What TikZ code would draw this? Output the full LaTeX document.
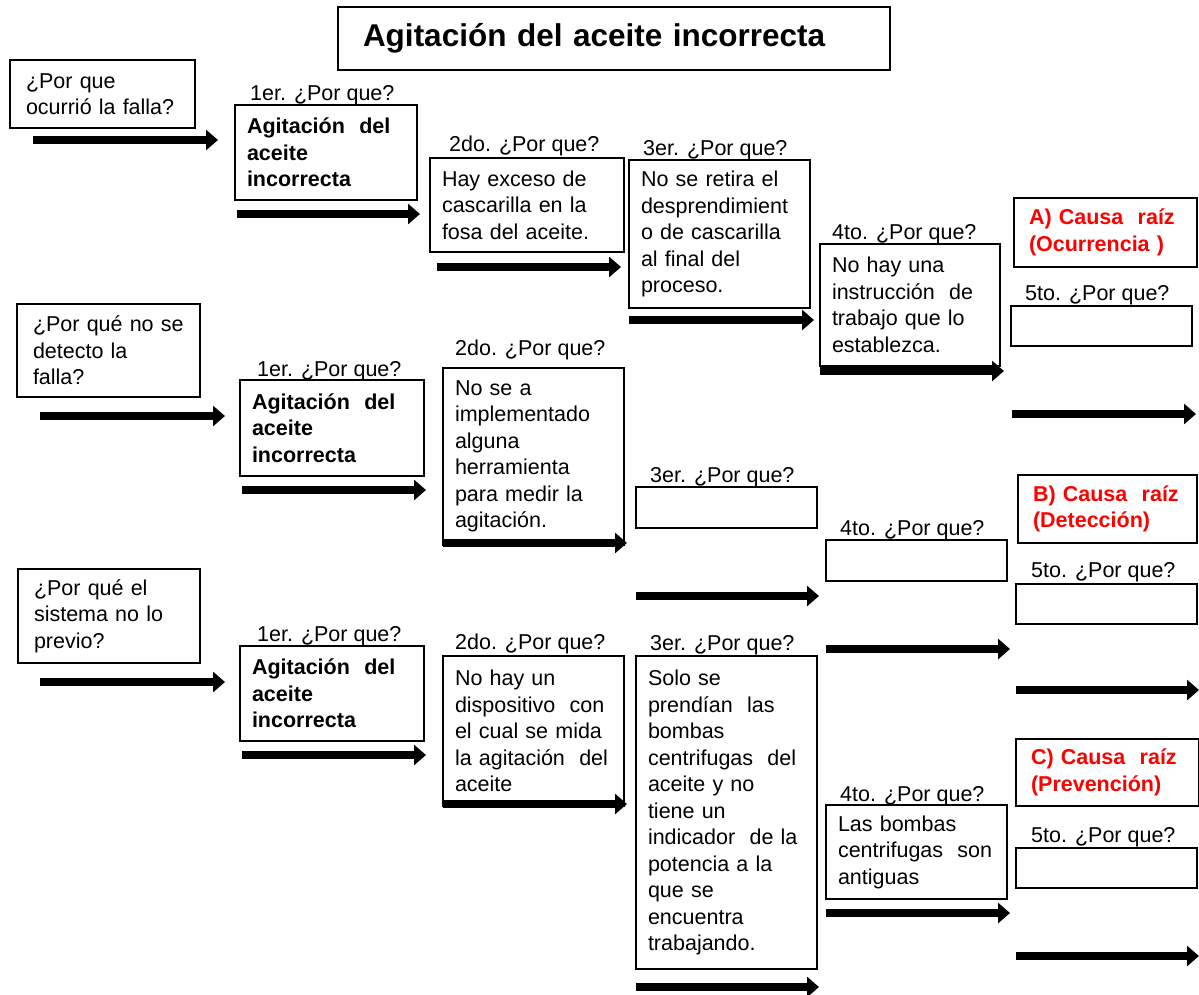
\documentclass[tikz,border=0pt]{standalone}
\usepackage{fontspec}
\setmainfont{Liberation Sans}
\usetikzlibrary{arrows.meta, positioning}
\definecolor{rootred}{RGB}{255,0,0}
\tikzset{
    why/.style={font=\fontsize{21.5}{26.5}\selectfont},
    why bold/.style={font=\fontsize{21.5}{26.5}\selectfont\bfseries},
    why box/.style={draw, line width=2.8pt, outer sep=0pt, anchor=north west,
        inner xsep=12pt, inner ysep=0pt, align=left, text width=157pt},
    question box/.style={why box, inner xsep=16pt},
    why label/.style={anchor=base west, inner sep=0pt},
    why arrow/.style={line width=8pt, -{Triangle[length=12pt, width=20pt]}},
    root box/.style={why box, why bold, text=rootred, inner xsep=15pt, text width=153pt},
}

\begin{document}
\begin{tikzpicture}[x=1pt, y=-1pt, why]
    \useasboundingbox (0,0) rectangle (1199,994);

    \node[draw, line width=1.5pt, outer sep=0pt, anchor=north west, inner xsep=25pt,
        text width=502pt, minimum height=63pt, align=left,
        font=\fontsize{31.5}{34}\selectfont\bfseries] (title) at (338,7)
        {Agitación del aceite incorrecta};

    % A) ocurrencia
    \node[question box, text width=153pt, minimum height=68pt] (q1) at (10,60)
        {¿Por que\\ocurrió la falla?};
    \node[why box, why bold, text width=158pt, minimum height=95pt] (b11) at (235,105)
        {Agitación \ del\\aceite\\incorrecta};
    \node[why box, text width=170pt, minimum height=94pt] (b12) at (430,158)
        {Hay exceso de\\cascarilla en la\\fosa del aceite.};
    \node[why box, minimum height=148pt] (b13) at (629,160)
        {No se retira el\\desprendimient\\o de cascarilla\\al final del\\proceso.};
    \node[why box, text width=156pt, minimum height=122pt] (b14) at (820,244)
        {No hay una\\instrucción \ de\\trabajo que lo\\establezca.};
    \node[root box, minimum height=69pt] (ra) at (1014,198)
        {A) Causa \ raíz\\(Ocurrencia )};
    \node[why box, minimum height=40pt] (b15) at (1011,306) {};

    % B) deteccion
    \node[question box, text width=151pt, minimum height=93pt] (q2) at (17,304)
        {¿Por qué no se\\detecto la\\falla?};
    \node[why box, why bold, text width=160pt, minimum height=96pt] (b21) at (240,380)
        {Agitación \ del\\aceite\\incorrecta};
    \node[why box, minimum height=177pt] (b22) at (443,368)
        {No se a\\implementado\\alguna\\herramienta\\para medir la\\agitación.};
    \node[why box, minimum height=41pt] (b23) at (636,487) {};
    \node[why box, minimum height=41pt] (b24) at (826,540) {};
    \node[root box, text width=149pt, minimum height=68pt] (rb) at (1018,475)
        {B) Causa \ raíz\\(Detección)};
    \node[why box, minimum height=40pt] (b25) at (1016,584) {};

    % C) prevencion
    \node[question box, text width=150pt, minimum height=94pt] (q3) at (18,569)
        {¿Por qué el\\sistema no lo\\previo?};
    \node[why box, why bold, text width=160pt, minimum height=95pt] (b31) at (240,646)
        {Agitación \ del\\aceite\\incorrecta};
    \node[why box, minimum height=150pt] (b32) at (443,656)
        {No hay un\\dispositivo \ con\\el cual se mida\\la agitación \ del\\aceite};
    \node[why box, minimum height=313pt] (b33) at (636,656)
        {Solo se\\prendían \ las\\bombas\\centrifugas \ del\\aceite y no\\tiene un\\
         indicador \ de la\\potencia a la\\que se\\encuentra\\trabajando.};
    \node[why box, minimum height=94pt] (b34) at (826,805)
        {Las bombas\\centrifugas \ son\\antiguas};
    \node[root box, minimum height=67pt] (rc) at (1016,739)
        {C) Causa \ raíz\\(Prevención)};
    \node[why box, minimum height=40pt] (b35) at (1016,848) {};

    % "n. ¿Por que?" over each box
    \foreach \b/\ord/\a/\d in {b11/1er./15/5, b12/2do./19/7, b13/3er./14/5,
            b14/4to./12/5, b15/5to./14/6,
            b21/1er./17/4, b22/2do./12/13, b23/3er./14/5,
            b24/4to./14/5, b25/5to./15/7,
            b31/1er./17/5, b32/2do./12/7, b33/3er./14/6,
            b34/4to./14/4, b35/5to./15/6}
        \node[why label] (l\b) at ([shift={(\a,-\d)}]\b.north west) {\ord{} ¿Por que?};

    % block arrows under the boxes
    \foreach \b/\a/\c/\d in {q1/23/23/12, b11/2/3/14, b12/7/-3/15, b13/0/4/12,
            b14/0/4/5, b15/1/4/68,
            q2/23/25/19, b21/2/2/14, b22/0/3/-2, b23/0/2/68, b24/0/3/68, b25/0/2/66,
            q3/22/25/19, b31/2/2/14, b32/0/3/-2, b33/0/2/18, b34/0/3/14, b35/0/2/68}
        \draw[why arrow] ([shift={(\a,\d)}]\b.south west) -- ([shift={(\c,\d)}]\b.south east);
\end{tikzpicture}
\end{document}
